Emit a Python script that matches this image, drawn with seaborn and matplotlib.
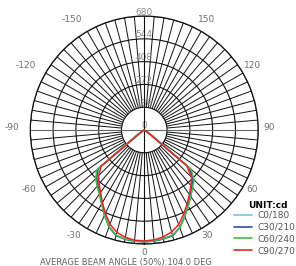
import numpy as np
import pandas as pd
import matplotlib
matplotlib.use('Agg')
import matplotlib.pyplot as plt
from matplotlib.lines import Line2D
import seaborn as sns

### ---------------- data ----------------
gamma = list(range(-90, 95, 5))   # deg, 0 = straight down

c0_180 = [0, 0, 0, 0, 0, 0, 0, 35, 355, 400, 430, 463, 505, 560, 612, 650, 660, 666,
          668,
          666, 660, 652, 618, 568, 520, 478, 440, 410, 350, 40, 0, 0, 0, 0, 0, 0, 0]
c30_210 = [0, 0, 0, 0, 0, 0, 0, 45, 360, 402, 432, 462, 503, 562, 615, 652, 662, 666,
           667,
           665, 660, 653, 620, 570, 522, 480, 442, 412, 352, 45, 0, 0, 0, 0, 0, 0, 0]
c60_240 = [0, 0, 0, 0, 0, 0, 0, 60, 370, 410, 438, 468, 510, 562, 614, 650, 660, 665,
           666,
           664, 658, 650, 620, 572, 525, 485, 450, 420, 365, 60, 0, 0, 0, 0, 0, 0, 0]
c90_270 = [0, 0, 0, 0, 0, 0, 0, 20, 335, 385, 420, 455, 500, 548, 598, 632, 650, 660,
           662,
           658, 648, 630, 600, 555, 510, 470, 432, 400, 330, 20, 0, 0, 0, 0, 0, 0, 0]

series_names = ['C0/180', 'C30/210', 'C60/240', 'C90/270']
series_colors = ['#6cc9e3', '#2f4fa3', '#4cb848', '#e8262a']
ring_values = [136, 272, 408, 544, 680]
angle_labels = [-150, -120, -90, -60, -30, 0, 30, 60, 90, 120, 150]
beam_text = 'AVERAGE BEAM ANGLE (50%):104.0 DEG'

df = pd.concat([
    pd.DataFrame({'theta': np.deg2rad(gamma), 'cd': v, 'plane': n})
    for n, v in zip(series_names, [c0_180, c30_210, c60_240, c90_270])
])

### ---------------- plot ----------------
sns.set_theme(style='white')
plt.rcParams['font.family'] = ['DejaVu Sans']

fig = plt.figure(figsize=(2.96, 2.66), dpi=100)
ax = fig.add_axes([0.1024, 0.0827, 0.770, 0.857], projection='polar')
ax.set_theta_zero_location('S')
ax.set_theta_direction(1)
ax.set_ylim(0, 680)
ax.set_facecolor('white')

# grid: rings + radial spokes every 5 deg (spokes stop at the first ring)
ax.set_yticks(ring_values)
ax.set_yticklabels([])
ax.set_xticks([])
ax.yaxis.grid(True, color='#111111', lw=0.8)
ax.xaxis.grid(False)
ax.spines['polar'].set_color('#111111')
ax.spines['polar'].set_linewidth(0.9)
for a in range(0, 360, 5):
    t = np.deg2rad(a)
    if a in (0, 180):
        ax.plot([t, t], [0, 680], color='#111111', lw=0.8, zorder=2.5)
    elif a in (90, 270):
        ax.plot([t, t], [0, 680], color='#666666', lw=0.8, zorder=1)
    else:
        ax.plot([t, t], [136, 680], color='#111111', lw=0.7, zorder=1)

# ring labels along the top spoke
for r in [0] + ring_values:
    ax.text(np.pi, r + 24, str(r), ha='center', va='center', fontsize=6.5,
            color='#8a8a8a', zorder=2)

# angle labels outside (px radius ~125 of 114 px ring)
r_lab = 680 * 125 / 114
for a in angle_labels:
    ha = 'right' if a < 0 else 'center'
    ax.annotate(str(a), xy=(np.deg2rad(a), r_lab), xytext=(0, 2.5),
                textcoords='offset pixels', ha=ha, va='center', fontsize=6.5,
                color='#707070', annotation_clip=False)

sns.lineplot(data=df, x='theta', y='cd', hue='plane', hue_order=series_names,
             palette=series_colors, sort=False, lw=1.1, legend=False, ax=ax,
             zorder=3)
ax.set_xlabel('')
ax.set_ylabel('')

fig.text(126 / 296, 1 - 262 / 266, beam_text, ha='center', va='center',
         fontsize=6, color='#606060')

fig.text(248 / 296, 1 - 205 / 266, 'UNIT:cd', ha='left', va='center',
         fontsize=6.5, fontweight='bold', color='black')
handles = [Line2D([], [], color=c, lw=1.2) for c in series_colors]
leg = fig.legend(handles, series_names, loc='upper left',
                 bbox_to_anchor=(234 / 296, 1 - 211 / 266), frameon=False,
                 fontsize=6.5, handlelength=2.0, handletextpad=0.6,
                 labelspacing=0.3, borderpad=0, borderaxespad=0)
for t in leg.get_texts():
    t.set_color('#555555')

fig.savefig('out.png', dpi=100)
